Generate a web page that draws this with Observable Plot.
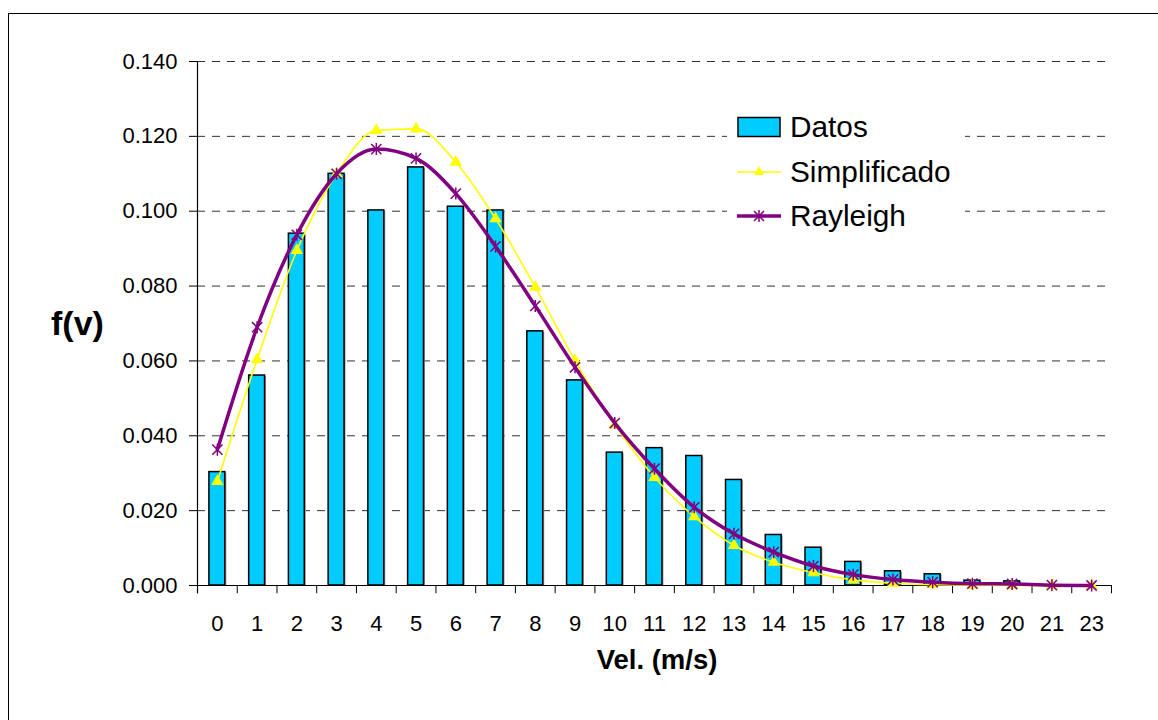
<!DOCTYPE html>
<html><head><meta charset="utf-8">
<script src="https://cdn.jsdelivr.net/npm/d3@7"></script>
<script src="https://cdn.jsdelivr.net/npm/@observablehq/plot@0.6"></script>
<style>
html,body{margin:0;padding:0;background:#fff;overflow:hidden;}
#wrap{position:relative;width:1158px;height:720px;font-family:"Liberation Sans",Arial,sans-serif;color:#000;}
#wrap svg.plot{position:absolute;left:0;top:0;}
#border{position:absolute;left:8px;top:13px;width:1300px;height:900px;border-top:1.5px solid #000;border-left:1.5px solid #000;box-sizing:border-box;}
#legend{position:absolute;left:727px;top:100px;width:238px;height:140px;background:#fff;}
.row{position:absolute;left:10px;height:40px;display:flex;align-items:center;}
.row svg{display:block;}
.row span{margin-left:9px;font-size:29.8px;line-height:40px;}
#ylab{position:absolute;left:51px;top:304px;font-size:34px;font-weight:bold;}
#xlab{position:absolute;left:557px;width:200px;text-align:center;top:644px;font-size:27.5px;font-weight:bold;}
</style>
</head><body>
<div id="wrap">
  <div id="border"></div>
  <div id="chart"></div>
  <div id="legend">
    <div class="row" style="top:7px"><svg width="44" height="22"><rect x="1" y="1.5" width="42" height="19" fill="#00CCFF" stroke="#000" stroke-width="1.5"/></svg><span>Datos</span></div>
    <div class="row" style="top:52px"><svg width="44" height="22"><line x1="0" y1="11" x2="44" y2="11" stroke="#FFFF00" stroke-width="1.5"/><path d="M22,5 L27,14 L17,14 Z" fill="#FFFF00"/></svg><span>Simplificado</span></div>
    <div class="row" style="top:96px"><svg width="44" height="22"><line x1="0" y1="11" x2="44" y2="11" stroke="#800080" stroke-width="3.5"/><path d="M17,6 L27,16 M27,6 L17,16 M22,5 L22,17" stroke="#800080" stroke-width="1.5"/></svg><span>Rayleigh</span></div>
  </div>
  <div id="ylab">f(v)</div>
  <div id="xlab">Vel. (m/s)</div>
</div>
<script>
const categories = ["0","1","2","3","4","5","6","7","8","9","10","11","12","13","14","15","16","17","18","19","20","21","23"];
const datos = [0.0303,0.0561,0.0940,0.1100,0.1002,0.1117,0.1012,0.1002,0.0679,0.0548,0.0355,0.0367,0.0346,0.0282,0.0135,0.0101,0.0063,0.0038,0.0030,0.0013,0.0011,0.0000,0.0000];
const simplificado = [0.0278,0.0604,0.0895,0.1100,0.1216,0.1220,0.1131,0.0980,0.0797,0.0601,0.0430,0.0289,0.0184,0.0107,0.0062,0.0034,0.0015,0.0006,0.0002,0.0001,0.0000,0.0000,0.0000];
const rayleigh = [0.0363,0.0690,0.0937,0.1100,0.1166,0.1141,0.1047,0.0906,0.0747,0.0583,0.0434,0.0312,0.0209,0.0138,0.0089,0.0052,0.0029,0.0016,0.0009,0.0005,0.0004,0.0001,0.0000];
const yTicks = [0,0.02,0.04,0.06,0.08,0.10,0.12,0.14];

const W = 1158, H = 720, mL = 197, mR = 47, mT = 61, mB = 135;
const step = (W - mL - mR) / categories.length;

const rows = categories.map((c, i) => ({c, datos: datos[i], simp: simplificado[i], ray: rayleigh[i]}));

const excelStar = {
  draw(ctx, size) {
    const r = Math.sqrt(size / Math.PI);
    const d = r * 0.85;
    ctx.moveTo(-d, -d); ctx.lineTo(d, d);
    ctx.moveTo(d, -d); ctx.lineTo(-d, d);
    ctx.moveTo(0, -r); ctx.lineTo(0, r);
  }
};

const tickLen = 0.0022;

const plot = Plot.plot({
  width: W, height: H,
  marginLeft: mL, marginRight: mR, marginTop: mT, marginBottom: mB,
  style: {fontFamily: '"Liberation Sans", Arial, sans-serif', fontSize: "22px", color: "#000", background: "transparent"},
  x: {type: "band", domain: categories, paddingInner: 0.6, paddingOuter: 0.3, round: false, label: null},
  y: {domain: [0, 0.14], label: null},
  marks: [
    Plot.ruleY(yTicks.filter(d => d > 0), {stroke: "#333", strokeDasharray: "8,7", strokeWidth: 1}),
    Plot.barY(rows, {x: "c", y: "datos", fill: "#999", dx: 1.5, dy: 1}),
    Plot.barY(rows, {x: "c", y: "datos", fill: "#00CCFF", stroke: "#000", strokeWidth: 1.5}),
    Plot.ruleY([0], {stroke: "#000", strokeWidth: 1.2}),
    Plot.ruleX(categories, {x: d => d, y1: -tickLen, y2: 0, dx: -step / 2, stroke: "#000"}),
    Plot.ruleX([categories[categories.length - 1]], {x: d => d, y1: -tickLen, y2: 0, dx: step / 2, stroke: "#000"}),
    Plot.ruleX([categories[0]], {x: d => d, y1: -tickLen, y2: 0.14, dx: -step / 2, stroke: "#000", strokeWidth: 1.2}),
    Plot.line(rows, {x: "c", y: "simp", stroke: "#FFFF00", strokeWidth: 1.6, curve: "monotone-x"}),
    Plot.dot(rows, {x: "c", y: "simp", symbol: "triangle", fill: "#FFFF00", r: 4.6}),
    Plot.line(rows, {x: "c", y: "ray", stroke: "#800080", strokeWidth: 3.5, curve: "monotone-x"}),
    Plot.dot(rows, {x: "c", y: "ray", symbol: excelStar, stroke: "#800080", fill: "none", strokeWidth: 1.5, r: 6}),
    Plot.axisY({ticks: yTicks, tickFormat: d3.format(".3f"), tickSize: 8, tickPadding: 12, fontSize: 22, label: null}),
    Plot.axisX({tickSize: 0, tickPadding: 30, fontSize: 22, label: null})
  ]
});
document.getElementById("chart").appendChild(plot);
</script>
</body></html>
